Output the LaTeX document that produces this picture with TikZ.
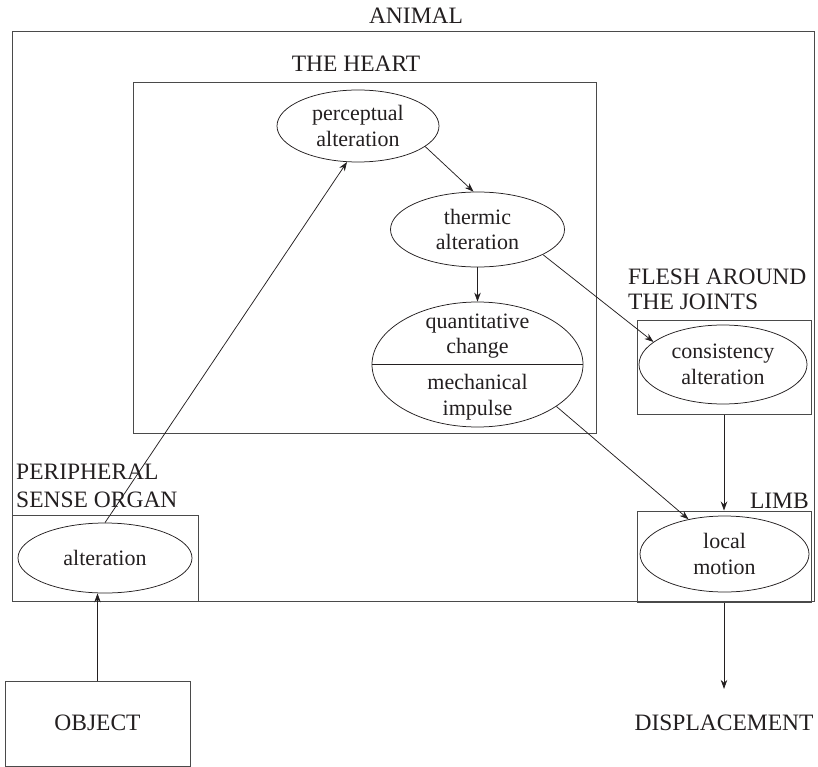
\documentclass[tikz,border=0pt]{standalone}
\usepackage{fontspec}
\setmainfont{Liberation Serif}
\usetikzlibrary{shapes.geometric,arrows.meta}
\definecolor{ink}{HTML}{231F20}
\definecolor{boxgray}{HTML}{4A4A4A}
\tikzset{
  bx/.style={draw=boxgray,line width=1pt,rectangle,inner sep=0pt},
  ell/.style={draw=ink,line width=0.75pt,ellipse,inner sep=0pt,align=center,text=ink},
  lbl/.style={inner sep=0pt,text=ink},
  caps/.style={lbl,font=\fontsize{23.5}{28}\selectfont},
  arr/.style={draw=ink,line width=0.75pt,-{Stealth[length=9pt,width=6.5pt]}},
}
\begin{document}
\begin{tikzpicture}[x=1pt,y=-1pt,font=\fontsize{22}{25.5}\selectfont]
\useasboundingbox (0,0) rectangle (818,767);
% boxes
\node[bx,minimum width=801.3,minimum height=569] (animal) at (413.35,316.5) {};
\node[bx,minimum width=463,minimum height=350] (heart) at (364.5,258) {};
\node[bx,minimum width=185.3,minimum height=86] (peribox) at (105.35,558) {};
\node[bx,minimum width=174,minimum height=94] (fleshbox) at (724,367) {};
\node[bx,minimum width=174,minimum height=91] (limbbox) at (724,556.5) {};
\node[bx,minimum width=185,minimum height=85] (obj) at (97.5,723.5) {};
% box labels
\node[caps] (animallbl) at (416,16) {ANIMAL};
\node[caps] (heartlbl) at (356,64) {THE HEART};
\node[caps,anchor=west] (peri1) at (16,472) {PERIPHERAL};
\node[caps,anchor=west] (peri2) at (16,500) {SENSE ORGAN};
\node[caps,anchor=west] (flesh1) at (628,277) {FLESH AROUND};
\node[caps,anchor=west] (flesh2) at (628,302) {THE JOINTS};
\node[caps,anchor=east] (limblbl) at (809,501) {LIMB};
\node[caps] (objlbl) at (97.5,723) {OBJECT};
\node[caps] (disp) at (724,723) {DISPLACEMENT};
% ellipses
\node[ell,minimum width=162,minimum height=72] (perc) at (358,126) {perceptual\\alteration};
\node[ell,minimum width=174,minimum height=75] (thermic) at (477.5,229.5) {thermic\\alteration};
\node[ell,minimum width=211,minimum height=125] (q) at (477.5,364.5) {};
\draw[draw=ink,line width=0.75pt] (q.west) -- (q.east);
\node[lbl,align=center] (qt) at (477.5,336) {quantitative\\change};
\node[lbl,align=center] (qb) at (477.5,397) {mechanical\\impulse};
\node[ell,minimum width=168,minimum height=79] (cons) at (723,364.5) {consistency\\alteration};
\node[ell,minimum width=169,minimum height=76] (local) at (724.5,554) {local\\motion};
\node[ell,minimum width=174,minimum height=70] (alt) at (105,558) {alteration};
% connectors
\draw[arr] (alt.north) -- (perc.253);
\draw[arr] (perc.-17) -- (thermic.96);
\draw[arr] (thermic.south) -- (q.north);
\draw[arr] (thermic.-21) -- (cons.162);
\draw[arr] (q.-28) -- (local.136);
\draw[arr] (fleshbox.south) -- (limbbox.north);
\draw[arr,shorten >=26pt] (limbbox.south) -- (disp.north);
\draw[arr] (obj.north) -- (obj.north |- alt.south);
\end{tikzpicture}
\end{document}
